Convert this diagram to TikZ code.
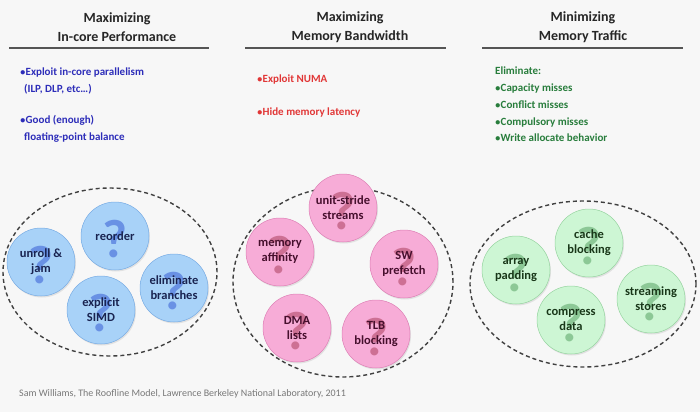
\documentclass[tikz,border=0pt]{standalone}
\usepackage{fontspec}
\setmainfont{Carlito}
\usetikzlibrary{shapes.geometric,shadings,shadows}
\definecolor{bgc}{RGB}{247,247,247}
\definecolor{hdrline}{RGB}{85,85,85}
\definecolor{bluetxt}{RGB}{45,45,185}
\definecolor{redtxt}{RGB}{225,55,55}
\definecolor{greentxt}{RGB}{40,125,60}
\definecolor{citec}{RGB}{120,120,120}
\definecolor{bA}{RGB}{168,210,248}
\definecolor{bB}{RGB}{148,195,242}
\definecolor{bC}{RGB}{120,172,228}
\definecolor{bQ}{RGB}{105,145,228}
\definecolor{bT}{RGB}{25,35,80}
\definecolor{pA}{RGB}{247,172,215}
\definecolor{pB}{RGB}{238,150,200}
\definecolor{pC}{RGB}{222,128,182}
\definecolor{pQ}{RGB}{205,112,148}
\definecolor{pT}{RGB}{70,15,45}
\definecolor{gA}{RGB}{205,246,212}
\definecolor{gB}{RGB}{185,236,195}
\definecolor{gC}{RGB}{150,212,160}
\definecolor{gQ}{RGB}{140,200,150}
\definecolor{gT}{RGB}{25,55,25}
\pgfdeclareradialshading{bshade}{\pgfpoint{0bp}{0bp}}{color(0bp)=(bA); color(38bp)=(bA); color(46bp)=(bB); color(50bp)=(bC)}
\pgfdeclareradialshading{pshade}{\pgfpoint{0bp}{0bp}}{color(0bp)=(pA); color(38bp)=(pA); color(46bp)=(pB); color(50bp)=(pC)}
\pgfdeclareradialshading{gshade}{\pgfpoint{0bp}{0bp}}{color(0bp)=(gA); color(38bp)=(gA); color(46bp)=(gB); color(50bp)=(gC)}
\tikzset{
  hdr/.style={font=\fontsize{14}{19}\selectfont\bfseries, align=center, text=black!85, inner sep=0pt},
  hline/.style={draw=hdrline, line width=1.8pt},
  bullets/.style={font=\fontsize{11}{17}\selectfont\bfseries, align=left, anchor=north west, inner sep=0pt},
  group/.style={draw=black!75, dashed, dash pattern=on 4pt off 3pt, line width=1.4pt},
  bub/.style={circle, minimum size=68pt, inner sep=0pt, align=center,
    font=\fontsize{12.5}{15}\selectfont\bfseries,
    drop shadow={shadow xshift=1pt, shadow yshift=-1.5pt, opacity=0.18}},
  bluebub/.style={bub, shading=bshade, text=bT, draw=bC, line width=0.5pt,
    path picture={\node[text=bQ, font=\fontsize{54}{54}\selectfont\bfseries] at ([yshift=-3pt]path picture bounding box.center) {?};}},
  pinkbub/.style={bub, shading=pshade, text=pT, draw=pC, line width=0.5pt,
    path picture={\node[text=pQ, font=\fontsize{54}{54}\selectfont\bfseries] at ([yshift=-3pt]path picture bounding box.center) {?};}},
  greenbub/.style={bub, shading=gshade, text=gT, draw=gC, line width=0.5pt,
    path picture={\node[text=gQ, font=\fontsize{54}{54}\selectfont\bfseries] at ([yshift=-3pt]path picture bounding box.center) {?};}},
}
\begin{document}
\begin{tikzpicture}[x=1pt,y=-1pt]
\useasboundingbox (0,0) rectangle (700,412);
\fill[bgc] (0,0) rectangle (700,412);

% headers
\node[hdr] (h1) at (117,27) {Maximizing\\In-core Performance};
\node[hdr] (h2) at (350,27) {Maximizing\\Memory Bandwidth};
\node[hdr] (h3) at (583,27) {Minimizing\\Memory Traffic};
\coordinate (h1a) at (9,48); \coordinate (h1b) at (209,48);
\coordinate (h2a) at (245,48); \coordinate (h2b) at (446,48);
\coordinate (h3a) at (482,48); \coordinate (h3b) at (683,48);
\draw[hline] (h1a) -- (h1b);
\draw[hline] (h2a) -- (h2b);
\draw[hline] (h3a) -- (h3b);

% bullet texts
\node[bullets, text=bluetxt] (t1) at (20,68) {$\bullet$Exploit in-core parallelism\\\hspace{4pt}(ILP, DLP, etc\dots)\\[14pt]$\bullet$Good (enough)\\\hspace{4pt}floating-point balance};
\node[bullets, text=redtxt, font=\fontsize{11}{33}\selectfont\bfseries] (t2) at (257,75) {$\bullet$Exploit NUMA\\$\bullet$Hide memory latency};
\node[bullets, text=greentxt, font=\fontsize{11}{16.7}\selectfont\bfseries] (t3) at (495,67) {Eliminate:\\$\bullet$Capacity misses\\$\bullet$Conflict misses\\$\bullet$Compulsory misses\\$\bullet$Write allocate behavior};

% group ellipses
\node[group, ellipse, minimum width=214pt, minimum height=168pt] (g1) at (110,272) {};
\node[group, ellipse, minimum width=220pt, minimum height=190pt] (g2) at (343,282) {};
\node[group, ellipse, minimum width=226pt, minimum height=166pt] (g3) at (583,284) {};

% blue bubbles
\node[bluebub] (reorder) at (115,236) {reorder};
\node[bluebub] (unroll) at (41,262) {unroll \&\\jam};
\node[bluebub] (simd) at (101,310) {explicit\\SIMD};
\node[bluebub] (elim) at (174,288) {eliminate\\branches};

% pink bubbles
\node[pinkbub] (unit) at (343,208) {unit-stride\\streams};
\node[pinkbub] (aff) at (280,252) {memory\\affinity};
\node[pinkbub] (swp) at (404,264) {SW\\prefetch};
\node[pinkbub] (dma) at (297,328) {DMA\\lists};
\node[pinkbub] (tlb) at (376,334) {TLB\\blocking};

% green bubbles
\node[greenbub] (cache) at (589,243) {cache\\blocking};
\node[greenbub] (pad) at (516,270) {array\\padding};
\node[greenbub] (stream) at (651,299) {streaming\\stores};
\node[greenbub] (comp) at (571,320) {compress\\data};

% citation
\node[anchor=west, text=citec, font=\fontsize{10}{12}\selectfont, inner sep=0pt] (cite) at (19,394) {Sam Williams, The Roofline Model, Lawrence Berkeley National Laboratory, 2011};
\end{tikzpicture}
\end{document}
